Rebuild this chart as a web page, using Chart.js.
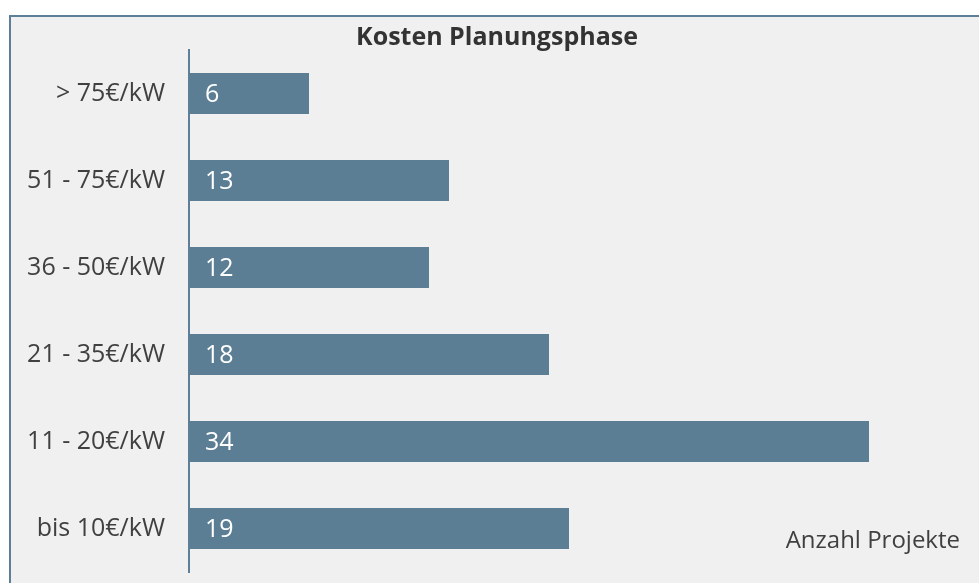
<!DOCTYPE html>
<html>
<head>
<meta charset="utf-8">
<script src="https://cdn.jsdelivr.net/npm/chart.js@4"></script>
<style>
  html, body { margin: 0; padding: 0; background: #fff; }
  canvas { display: block; }
</style>
</head>
<body>
<canvas id="barchart" width="979" height="583"></canvas>
<script>
const categories = ['> 75€/kW', '51 - 75€/kW', '36 - 50€/kW', '21 - 35€/kW', '11 - 20€/kW', 'bis 10€/kW'];
const projects = [6, 13, 12, 18, 34, 19];
const title = 'Kosten Planungsphase';
const axisNote = 'Anzahl Projekte';

const barColor = '#5b7e95';
const lineColor = '#5d7f97';

// frame + grey background
const frame = {
  id: 'frame',
  beforeDraw(chart) {
    const c = chart.ctx;
    c.save();
    c.fillStyle = '#f0f0f0';
    c.fillRect(9, 15, chart.width, chart.height);
    c.fillStyle = lineColor;
    c.fillRect(9, 15, 2, chart.height);
    c.fillRect(9, 15, chart.width, 2);
    c.restore();
  }
};

// value labels inside bars, plus the note bottom right
const labels = {
  id: 'labels',
  afterDatasetsDraw(chart) {
    const c = chart.ctx;
    c.save();
    c.font = '25px "Open Sans"';
    c.fillStyle = '#ffffff';
    c.textBaseline = 'middle';
    c.textAlign = 'left';
    chart.getDatasetMeta(0).data.forEach((bar, i) => {
      c.fillText(projects[i], bar.base + 16, bar.y + 1);
    });
    c.font = '24px "Open Sans"';
    c.fillStyle = '#404040';
    c.textAlign = 'right';
    const a = chart.chartArea;
    c.fillText(axisNote, a.right - 9, a.bottom - 31);
    c.restore();
  }
};

new Chart(document.getElementById('barchart'), {
  type: 'bar',
  data: {
    labels: categories,
    datasets: [{
      data: projects,
      backgroundColor: barColor,
      barPercentage: 0.47,
      categoryPercentage: 1
    }]
  },
  options: {
    indexAxis: 'y',
    responsive: false,
    animation: false,
    layout: { padding: { top: 14, right: 10, bottom: 11, left: 25 } },
    plugins: {
      legend: { display: false },
      tooltip: { enabled: false },
      title: {
        display: true,
        text: title,
        color: '#333333',
        font: { family: 'Open Sans', size: 25, weight: 'bold', lineHeight: 1 },
        padding: { top: 11, bottom: 0 }
      }
    },
    scales: {
      x: {
        display: false,
        min: 0,
        max: 39
      },
      y: {
        afterFit(scale) {
          scale.width = 164;
          scale.paddingTop = 0;
          scale.paddingBottom = 0;
        },
        grid: { display: false, drawTicks: false },
        border: { display: true, color: lineColor, width: 2 },
        ticks: {
          padding: 24,
          color: '#404040',
          font: { family: 'Open Sans', size: 25 }
        }
      }
    }
  },
  plugins: [frame, labels]
});
</script>
</body>
</html>
